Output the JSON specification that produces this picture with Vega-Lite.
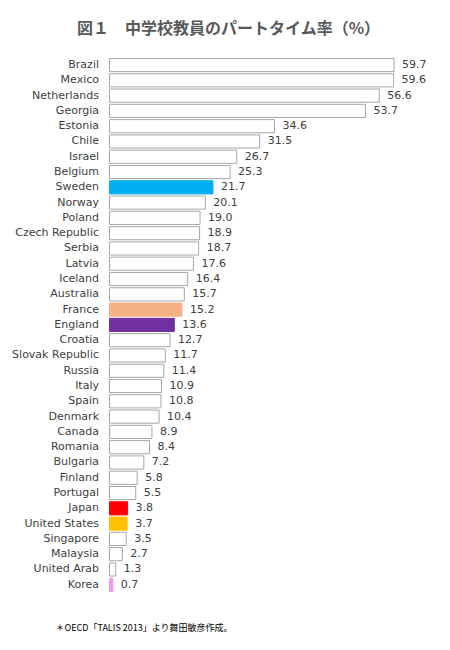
{
  "$schema": "https://vega.github.io/schema/vega-lite/v6.json",
  "autosize": {"type": "none"},
  "padding": {"left": 109.5, "top": 57.4, "right": 54.5, "bottom": 57.6},
  "width": 286,
  "height": 535,
  "background": "#ffffff",
  "config": {"view": {"stroke": null}},
  "title": {
    "text": "図１　中学校教員のパートタイム率（%）",
    "font": "Noto Sans CJK JP",
    "fontSize": 16,
    "fontWeight": "bold",
    "color": "#595959",
    "anchor": "middle",
    "frame": "group",
    "dx": -24,
    "offset": 20
  },
  "data": {
    "values": [
      {"country": "Brazil", "rate": 59.7},
      {"country": "Mexico", "rate": 59.6},
      {"country": "Netherlands", "rate": 56.6},
      {"country": "Georgia", "rate": 53.7},
      {"country": "Estonia", "rate": 34.6},
      {"country": "Chile", "rate": 31.5},
      {"country": "Israel", "rate": 26.7},
      {"country": "Belgium", "rate": 25.3},
      {"country": "Sweden", "rate": 21.7},
      {"country": "Norway", "rate": 20.1},
      {"country": "Poland", "rate": 19.0},
      {"country": "Czech Republic", "rate": 18.9},
      {"country": "Serbia", "rate": 18.7},
      {"country": "Latvia", "rate": 17.6},
      {"country": "Iceland", "rate": 16.4},
      {"country": "Australia", "rate": 15.7},
      {"country": "France", "rate": 15.2},
      {"country": "England", "rate": 13.6},
      {"country": "Croatia", "rate": 12.7},
      {"country": "Slovak Republic", "rate": 11.7},
      {"country": "Russia", "rate": 11.4},
      {"country": "Italy", "rate": 10.9},
      {"country": "Spain", "rate": 10.8},
      {"country": "Denmark", "rate": 10.4},
      {"country": "Canada", "rate": 8.9},
      {"country": "Romania", "rate": 8.4},
      {"country": "Bulgaria", "rate": 7.2},
      {"country": "Finland", "rate": 5.8},
      {"country": "Portugal", "rate": 5.5},
      {"country": "Japan", "rate": 3.8},
      {"country": "United States", "rate": 3.7},
      {"country": "Singapore", "rate": 3.5},
      {"country": "Malaysia", "rate": 2.7},
      {"country": "United Arab", "rate": 1.3},
      {"country": "Korea", "rate": 0.7}
    ]
  },
  "encoding": {
    "y": {
      "field": "country",
      "type": "nominal",
      "sort": null,
      "title": null,
      "scale": {"paddingInner": 0.14, "paddingOuter": 0.07},
      "axis": {
        "ticks": false,
        "domain": false,
        "grid": false,
        "labelPadding": 11,
        "labelFont": "DejaVu Sans",
        "labelFontSize": 11,
        "labelColor": "#404040"
      }
    },
    "x": {
      "field": "rate",
      "type": "quantitative",
      "scale": {"domain": [0, 60], "nice": false},
      "title": "＊OECD「TALIS 2013」より舞田敏彦作成。",
      "axis": {
        "labels": false,
        "ticks": false,
        "domain": false,
        "grid": false,
        "titleFont": "Noto Sans CJK JP",
        "titleFontSize": 9,
        "titleFontWeight": "normal",
        "titleColor": "#000000",
        "titleAnchor": "start",
        "titleAlign": "left",
        "titleBaseline": "middle",
        "titleX": -54.5,
        "titleY": 34.6
      }
    }
  },
  "layer": [
    {
      "mark": {"type": "bar", "strokeWidth": 1},
      "encoding": {
        "fill": {
          "condition": [
            {"test": "datum.country === 'Sweden'", "value": "#00B0F0"},
            {"test": "datum.country === 'France'", "value": "#F4B183"},
            {"test": "datum.country === 'England'", "value": "#7030A0"},
            {"test": "datum.country === 'Japan'", "value": "#FF0000"},
            {"test": "datum.country === 'United States'", "value": "#FFC000"},
            {"test": "datum.country === 'Korea'", "value": "#EE99EE"}
          ],
          "value": "#ffffff"
        },
        "stroke": {
          "condition": [
            {"test": "datum.country === 'Sweden'", "value": "#00B0F0"},
            {"test": "datum.country === 'France'", "value": "#F4B183"},
            {"test": "datum.country === 'England'", "value": "#7030A0"},
            {"test": "datum.country === 'Japan'", "value": "#FF0000"},
            {"test": "datum.country === 'United States'", "value": "#FFC000"},
            {"test": "datum.country === 'Korea'", "value": "#EE99EE"}
          ],
          "value": "#A6A6A6"
        }
      }
    },
    {
      "mark": {
        "type": "text",
        "align": "left",
        "baseline": "middle",
        "dx": 8,
        "font": "DejaVu Sans",
        "fontSize": 11,
        "color": "#404040"
      },
      "encoding": {
        "text": {"field": "rate", "type": "quantitative", "format": ".1f"}
      }
    }
  ]
}
